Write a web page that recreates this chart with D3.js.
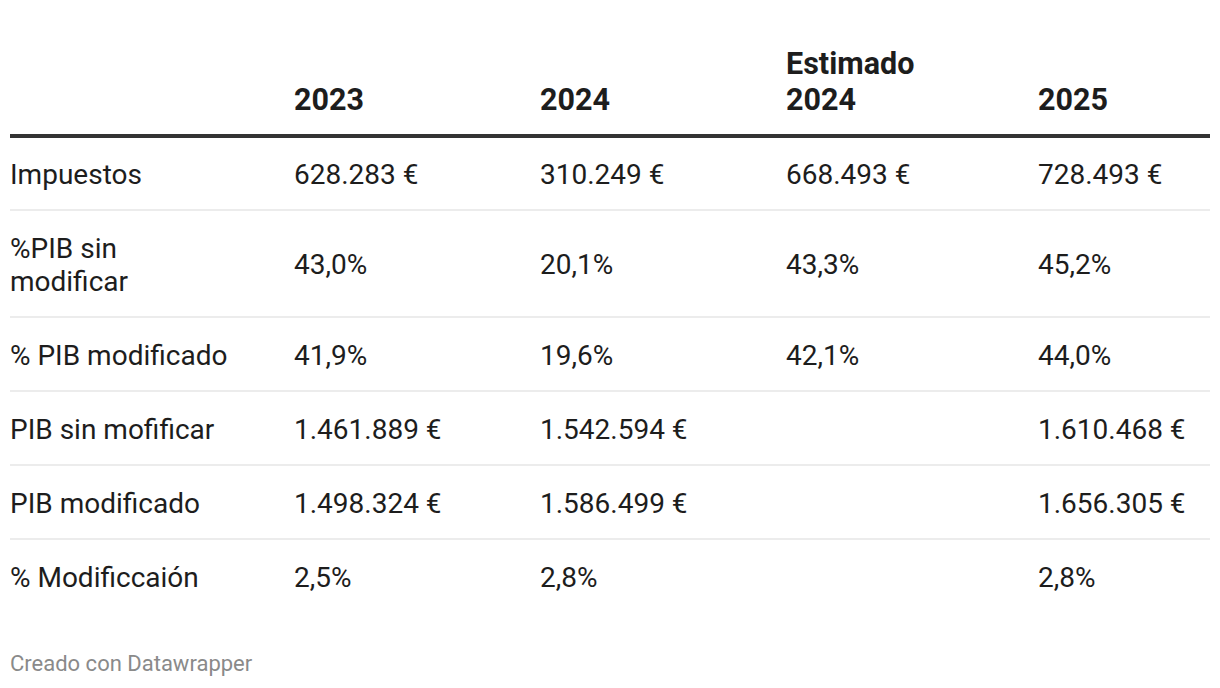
<!DOCTYPE html>
<html><head><meta charset="utf-8">
<script src="https://cdn.jsdelivr.net/npm/d3@7"></script>
<style>
html,body{margin:0;padding:0;background:#fff;}
svg{display:block;font-family:Roboto,"Noto Sans",sans-serif;}
</style></head>
<body><svg id="c" width="1220" height="688"></svg>
<script>
const columns = [["", ""], ["", "2023"], ["", "2024"], ["Estimado", "2024"], ["", "2025"]];
const rowLabels = [["Impuestos"], ["%PIB sin", "modificar"], ["% PIB modificado"], ["PIB sin mofificar"], ["PIB modificado"], ["% Modificcaión"]];
const col2023 = ["628.283 €", "43,0%", "41,9%", "1.461.889 €", "1.498.324 €", "2,5%"];
const col2024 = ["310.249 €", "20,1%", "19,6%", "1.542.594 €", "1.586.499 €", "2,8%"];
const colEst2024 = ["668.493 €", "43,3%", "42,1%", "", "", ""];
const col2025 = ["728.493 €", "45,2%", "44,0%", "1.610.468 €", "1.656.305 €", "2,8%"];
const footer = "Creado con Datawrapper";

const svg = d3.select("#c");
const left = 10, right = 1210;
const colX = d3.scaleOrdinal().domain(d3.range(5)).range([10, 294, 540, 786, 1038]);
const headerLineY = 136;
const lineH = 33;
const rowPad = 20.5;

// header
columns.forEach((c, i) => {
  const t = svg.append("text").attr("x", colX(i)).attr("font-weight", 700)
    .attr("font-size", 30.5).attr("fill", "#1d1d1d");
  t.append("tspan").attr("x", colX(i)).attr("y", 74).text(c[0]);
  t.append("tspan").attr("x", colX(i)).attr("y", 110).text(c[1]);
});
svg.append("rect").attr("x", left).attr("y", headerLineY - 2).attr("width", right - left).attr("height", 4).attr("fill", "#333");

const cols = [col2023, col2024, colEst2024, col2025];
let y = headerLineY;
rowLabels.forEach((lab, r) => {
  const h = (lab.length - 1) * lineH + 33 + 2 * rowPad;
  const cy = y + h / 2;
  const t = svg.append("text").attr("font-size", 28).attr("fill", "#1d1d1d");
  lab.forEach((l, k) => {
    t.append("tspan").attr("x", colX(0))
      .attr("y", cy + 10.5 + (k - (lab.length - 1) / 2) * lineH).text(l);
  });
  cols.forEach((cv, ci) => {
    svg.append("text").attr("x", colX(ci + 1)).attr("y", cy + 10.5)
      .attr("font-size", 28).attr("fill", "#1d1d1d").text(cv[r]);
  });
  y += h;
  if (r < rowLabels.length - 1) {
    svg.append("rect").attr("x", left).attr("y", y - 1).attr("width", right - left).attr("height", 2).attr("fill", "#ececec");
  }
});

svg.append("text").attr("x", left).attr("y", 671).attr("font-size", 22).attr("fill", "#8a8a8a").text(footer);
</script></body></html>
